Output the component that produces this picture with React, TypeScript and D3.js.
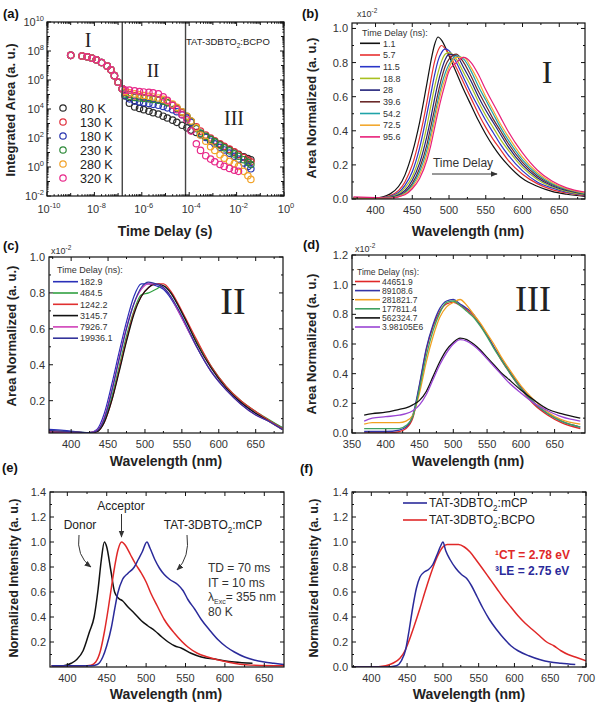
import React from "react";
import * as d3 from "d3";

const SANS = "'Liberation Sans', Arial, Helvetica, sans-serif";
const SERIF = "'Liberation Serif', 'Times New Roman', Times, serif";

// ---------------- (a) integrated area vs time delay ----------------
const A_TIME = [1e-9, 3e-9, 5e-9, 8e-9, 1.2e-8, 2e-8, 3.5e-8, 5e-8, 7e-8, 1e-7, 1.5e-7,
  2e-7, 3e-7, 5e-7, 8e-7, 1.2e-6, 2e-6, 3e-6, 5e-6, 8e-6, 1.2e-5, 2e-5, 3e-5, 5e-5, 8e-5,
  1.2e-4, 2e-4, 3e-4, 5e-4, 8e-4, 1.2e-3, 2e-3, 3e-3, 5e-3, 8e-3, 1.2e-2, 2e-2, 3e-2, 4e-2];
const A_EARLY = [5e7, 4.5e7, 4e7, 3.2e7, 2.5e7, 1.6e7, 9e6, 5e6, 2e6, 7e5, 2.5e5];
const A_80K = [...A_EARLY, 8e4, 2.5e4, 1.4e4, 1.1e4, 9e3, 7e3, 5.5e3, 4.5e3, 3.2e3, 2.4e3, 1.7e3, 1.2e3, 7.5e2, 5e2,
  3.5e2, 2.4e2, 1.7e2, 1.15e2, 80, 55, 36, 25, 16, 10.5, 7.5, 5, 3.8, 3.2];
const A_130K = [...A_EARLY, 1.4e5, 1e5, 8e4, 7e4, 6.2e4, 5.5e4, 5e4, 4.3e4, 3.5e4, 2.7e4, 1.8e4, 1.1e4, 5.5e3, 2.8e3,
  1.4e3, 6e2, 3e2, 1.6e2, 1e2, 65, 40, 27, 17, 11, 7, 4.5, 3, 2.3];
const A_180K = [...A_EARLY, 9e4, 5e4, 3.5e4, 3e4, 2.7e4, 2.4e4, 2.1e4, 1.8e4, 1.5e4, 1.2e4, 9e3, 6.5e3, 4e3, 2.4e3,
  1.2e3, 4.5e2, 2e2, 1.1e2, 60, 40, 23, 15, 9, 5.5, 3.5, 1.9, 1.1, 0.75];
const A_230K = [...A_EARLY, 1.1e5, 7.5e4, 6.2e4, 5.8e4, 5.4e4, 5e4, 4.6e4, 4e4, 3.4e4, 2.7e4, 1.9e4, 1.2e4, 6.5e3, 3.2e3,
  1.4e3, 4.5e2, 2.2e2, 1.3e2, 80, 55, 32, 21, 13, 8, 5.5, 3.2, 2.1, 1.5];
const A_280K = [...A_EARLY, 1.6e5, 1.3e5, 1.1e5, 9.5e4, 8.5e4, 7.5e4, 6.8e4, 5.8e4, 4.6e4, 3.5e4, 2.2e4, 1.3e4, 6.5e3, 3.2e3,
  1.5e3, 5e2, 1.6e2, 60, 25, 14, 7, 4, 2.5, 1.7, 1.1, 0.5, 0.25, 0.14];
const A_320K = [...A_EARLY, 2e5, 2e5, 1.8e5, 1.6e5, 1.5e5, 1.4e5, 1.3e5, 1.1e5, 7e4, 4e4, 1.8e4, 9e3, 4e3, 1.8e3,
  3e2, 40, 14, 6, 3.5, 2.3, 1.5, 1.1, 0.8, 0.6, 0.5, null, null, null];
const A_LABELS = ["80 K", "130 K", "180 K", "230 K", "280 K", "320 K"];
const A_VALUES = [A_80K, A_130K, A_180K, A_230K, A_280K, A_320K];
const A_COLORS = ["#2b2b2b", "#e0303e", "#2a36b0", "#2e8a3a", "#f2a228", "#e8288a"];
const A_BOUNDS = [1.5e-7, 7e-5];

// ---------------- (b) region I spectra ----------------
const B_WL = [370, 400, 420, 440, 450, 460, 470, 475, 480, 485, 490, 495, 500, 510, 520, 530, 540, 550, 560, 570, 580, 600, 620, 640, 660, 685];
const B_1_1 = [0.005, 0.006, 0.03, 0.14, 0.27, 0.45, 0.68, 0.8, 0.9, 0.95, 0.93, 0.89, 0.84, 0.74, 0.64, 0.55, 0.46, 0.38, 0.31, 0.25, 0.2, 0.12, 0.075, 0.045, 0.028, 0.015];
const B_5_7 = [0.005, 0.005, 0.02, 0.1, 0.2, 0.36, 0.57, 0.69, 0.8, 0.87, 0.9, 0.88, 0.85, 0.77, 0.68, 0.59, 0.5, 0.42, 0.35, 0.29, 0.23, 0.145, 0.09, 0.055, 0.035, 0.02];
const B_11_5 = [0.005, 0.005, 0.015, 0.08, 0.16, 0.3, 0.5, 0.61, 0.72, 0.81, 0.86, 0.88, 0.87, 0.8, 0.71, 0.62, 0.54, 0.46, 0.39, 0.32, 0.26, 0.165, 0.1, 0.065, 0.04, 0.022];
const B_18_8 = [0.005, 0.005, 0.012, 0.065, 0.13, 0.25, 0.43, 0.54, 0.65, 0.74, 0.81, 0.85, 0.86, 0.82, 0.74, 0.66, 0.57, 0.49, 0.42, 0.35, 0.29, 0.185, 0.115, 0.072, 0.045, 0.025];
const B_28 = [0.005, 0.005, 0.01, 0.05, 0.11, 0.21, 0.37, 0.47, 0.58, 0.68, 0.76, 0.82, 0.85, 0.84, 0.77, 0.69, 0.6, 0.52, 0.45, 0.38, 0.31, 0.2, 0.125, 0.078, 0.05, 0.028];
const B_39_6 = [0.005, 0.005, 0.008, 0.04, 0.09, 0.18, 0.32, 0.42, 0.52, 0.62, 0.71, 0.78, 0.82, 0.85, 0.8, 0.72, 0.63, 0.55, 0.47, 0.4, 0.33, 0.215, 0.135, 0.085, 0.054, 0.03];
const B_54_2 = [0.005, 0.005, 0.007, 0.035, 0.08, 0.16, 0.29, 0.38, 0.48, 0.58, 0.67, 0.74, 0.79, 0.84, 0.82, 0.75, 0.66, 0.58, 0.5, 0.42, 0.35, 0.23, 0.145, 0.09, 0.057, 0.032];
const B_72_5 = [0.005, 0.005, 0.006, 0.03, 0.07, 0.14, 0.26, 0.35, 0.45, 0.55, 0.64, 0.71, 0.77, 0.83, 0.83, 0.77, 0.69, 0.6, 0.52, 0.44, 0.37, 0.245, 0.155, 0.097, 0.06, 0.035];
const B_95_6 = [0.012, 0.008, 0.006, 0.025, 0.06, 0.12, 0.23, 0.31, 0.41, 0.51, 0.6, 0.68, 0.75, 0.8, 0.83, 0.8, 0.73, 0.64, 0.56, 0.48, 0.4, 0.27, 0.17, 0.105, 0.065, 0.04];
const B_LABELS = ["1.1", "5.7", "11.5", "18.8", "28", "39.6", "54.2", "72.5", "95.6"];
const B_VALUES = [B_1_1, B_5_7, B_11_5, B_18_8, B_28, B_39_6, B_54_2, B_72_5, B_95_6];
const B_COLORS = ["#111111", "#e83030", "#2a36c8", "#a8c020", "#22227a", "#6b2a2a", "#1fa3a8", "#f2a830", "#e8207a"];

// ---------------- (c) region II spectra ----------------
const C_WL = [370, 390, 410, 425, 435, 445, 455, 465, 475, 485, 495, 505, 515, 525, 535, 545, 555, 570, 590, 610, 630, 650, 670, 686];
const C_182_9 = [0.04, 0.035, 0.025, 0.022, 0.04, 0.13, 0.29, 0.47, 0.64, 0.78, 0.85, 0.85, 0.84, 0.82, 0.77, 0.7, 0.62, 0.5, 0.36, 0.26, 0.19, 0.13, 0.085, 0.05];
const C_484_5 = [0.03, 0.028, 0.024, 0.022, 0.03, 0.09, 0.22, 0.39, 0.56, 0.7, 0.79, 0.8, 0.82, 0.84, 0.8, 0.73, 0.65, 0.53, 0.39, 0.28, 0.2, 0.14, 0.09, 0.05];
const C_1242_2 = [0.025, 0.024, 0.023, 0.022, 0.028, 0.08, 0.2, 0.37, 0.54, 0.69, 0.78, 0.83, 0.85, 0.85, 0.81, 0.74, 0.66, 0.54, 0.39, 0.28, 0.2, 0.14, 0.085, 0.045];
const C_3145_7 = [0.025, 0.024, 0.023, 0.022, 0.027, 0.08, 0.2, 0.36, 0.53, 0.68, 0.78, 0.83, 0.85, 0.84, 0.8, 0.73, 0.65, 0.52, 0.38, 0.27, 0.19, 0.13, 0.08, 0.04];
const C_7926_7 = [0.025, 0.024, 0.023, 0.022, 0.035, 0.11, 0.26, 0.44, 0.61, 0.74, 0.82, 0.85, 0.85, 0.83, 0.78, 0.7, 0.62, 0.5, 0.36, 0.26, 0.18, 0.12, 0.08, 0.04];
const C_19936_1 = [0.035, 0.03, 0.025, 0.022, 0.033, 0.1, 0.25, 0.43, 0.6, 0.74, 0.83, 0.86, 0.85, 0.83, 0.78, 0.71, 0.63, 0.5, 0.36, 0.26, 0.18, 0.12, 0.08, 0.04];
const C_LABELS = ["182.9", "484.5", "1242.2", "3145.7", "7926.7", "19936.1"];
const C_VALUES = [C_182_9, C_484_5, C_1242_2, C_3145_7, C_7926_7, C_19936_1];
const C_COLORS = ["#2a30b8", "#30a040", "#e03030", "#111111", "#d040b8", "#33339a"];

// ---------------- (d) region III spectra ----------------
const D_WL = [368, 380, 400, 420, 430, 440, 450, 460, 470, 480, 490, 500, 510, 520, 530, 540, 550, 560, 570, 580, 600, 620, 640, 660, 688];
const D_44651_9 = [0.0, 0.0, 0.0, 0.01, 0.03, 0.1, 0.32, 0.56, 0.72, 0.82, 0.87, 0.88, 0.86, 0.83, 0.79, 0.73, 0.66, 0.58, 0.5, 0.43, 0.3, 0.19, 0.12, 0.07, 0.03];
const D_89108_6 = [0.01, 0.01, 0.01, 0.02, 0.04, 0.12, 0.33, 0.57, 0.73, 0.84, 0.89, 0.9, 0.87, 0.84, 0.8, 0.73, 0.66, 0.58, 0.51, 0.44, 0.31, 0.2, 0.13, 0.08, 0.04];
const D_281821_7 = [0.06, 0.07, 0.07, 0.07, 0.08, 0.12, 0.27, 0.48, 0.65, 0.78, 0.85, 0.88, 0.9, 0.86, 0.8, 0.74, 0.67, 0.6, 0.52, 0.45, 0.32, 0.22, 0.14, 0.09, 0.06];
const D_177811_4 = [0.03, 0.03, 0.03, 0.03, 0.05, 0.11, 0.3, 0.52, 0.69, 0.81, 0.88, 0.89, 0.86, 0.82, 0.78, 0.72, 0.65, 0.57, 0.5, 0.43, 0.3, 0.2, 0.13, 0.08, 0.04];
const D_562324_7 = [0.12, 0.13, 0.14, 0.16, 0.17, 0.19, 0.22, 0.28, 0.38, 0.48, 0.56, 0.61, 0.64, 0.63, 0.6, 0.56, 0.51, 0.46, 0.41, 0.37, 0.29, 0.22, 0.16, 0.13, 0.1];
const D_3_98105E6 = [0.08, 0.1, 0.11, 0.12, 0.13, 0.15, 0.19, 0.26, 0.36, 0.46, 0.54, 0.6, 0.63, 0.62, 0.59, 0.55, 0.5, 0.45, 0.4, 0.35, 0.27, 0.2, 0.15, 0.11, 0.08];
const D_LABELS = ["44651.9", "89108.6", "281821.7", "177811.4", "562324.7", "3.98105E6"];
const D_VALUES = [D_44651_9, D_89108_6, D_281821_7, D_177811_4, D_562324_7, D_3_98105E6];
const D_COLORS = ["#e02828", "#3434a8", "#f2a020", "#40a060", "#111111", "#9a44d4"];

// ---------------- (e) donor / acceptor / blend ----------------
const E_DON_WL = [380, 395, 405, 412, 420, 428, 434, 439, 443, 447, 450, 455, 460, 465, 470, 477, 485, 494, 502, 511, 520, 528, 536, 545, 557, 570, 590, 612, 635];
const E_DON = [0.01, 0.01, 0.03, 0.06, 0.13, 0.28, 0.4, 0.62, 0.85, 1.0, 0.96, 0.78, 0.6, 0.55, 0.53, 0.48, 0.43, 0.37, 0.33, 0.29, 0.24, 0.2, 0.17, 0.15, 0.11, 0.08, 0.06, 0.04, 0.03];
const E_ACC_WL = [380, 420, 430, 436, 442, 447, 452, 456, 460, 464, 469, 474, 480, 486, 494, 500, 506, 514, 523, 536, 553, 565, 578, 603, 633, 675];
const E_ACC = [0.01, 0.01, 0.015, 0.04, 0.13, 0.28, 0.47, 0.64, 0.8, 0.93, 1.0, 0.97, 0.9, 0.83, 0.75, 0.68, 0.59, 0.49, 0.38, 0.27, 0.16, 0.11, 0.08, 0.04, 0.015, 0.01];
const E_MCP_WL = [380, 430, 438, 445, 450, 456, 460, 464, 470, 477, 485, 490, 495, 501, 505, 511, 517, 523, 530, 540, 547, 553, 562, 570, 580, 591, 602, 612, 625, 637, 650, 662, 675];
const E_MCP = [0.01, 0.01, 0.02, 0.08, 0.17, 0.32, 0.46, 0.59, 0.7, 0.75, 0.8, 0.86, 0.92, 1.0, 0.95, 0.86, 0.79, 0.74, 0.7, 0.66, 0.61, 0.54, 0.46, 0.38, 0.3, 0.22, 0.16, 0.12, 0.08, 0.056, 0.04, 0.03, 0.02];

// ---------------- (f) mCP vs BCPO ----------------
const F_MCP_WL = [373, 420, 435, 442, 448, 453, 458, 463, 468, 474, 480, 486, 492, 497, 500, 504, 510, 518, 526, 533, 540, 548, 556, 565, 575, 585, 595, 605, 620, 635, 650, 665, 685];
const F_MCP = [0.0, 0.0, 0.01, 0.05, 0.14, 0.3, 0.48, 0.63, 0.72, 0.76, 0.78, 0.82, 0.9, 0.97, 1.0, 0.93, 0.86, 0.79, 0.74, 0.71, 0.65, 0.56, 0.47, 0.38, 0.3, 0.23, 0.17, 0.13, 0.09, 0.06, 0.04, 0.03, 0.02];
const F_BCPO_WL = [373, 400, 420, 430, 440, 447, 452, 460, 468, 476, 484, 492, 500, 506, 514, 522, 530, 538, 546, 555, 565, 575, 585, 595, 605, 615, 625, 635, 645, 655, 665, 675, 685, 700];
const F_BCPO = [0.0, 0.0, 0.01, 0.03, 0.07, 0.13, 0.2, 0.33, 0.47, 0.62, 0.76, 0.88, 0.96, 0.98, 0.98, 0.98, 0.96, 0.92, 0.86, 0.79, 0.71, 0.63, 0.55, 0.48, 0.41, 0.35, 0.3, 0.25, 0.2, 0.17, 0.13, 0.1, 0.08, 0.05];

const BLUE = "#2a2a9a";
const RED = "#e02828";

type Lin = d3.ScaleLinear<number, number>;

function rng(a: number, b: number, s: number) {
  return d3.range(a, b + s / 2, s).map((v) => +v.toFixed(3));
}

function LinAxes(props: {
  id: string; x: Lin; y: Lin; xMajor: number[]; xMinor: number[]; yMajor: number[]; yMinor: number[];
  xLabels: number[]; yLabels: number[]; yFmt?: (v: number) => string;
}) {
  const { x, y } = props;
  const [x0, x1] = x.range();
  const [yb, yt] = y.range();
  const M = 4, m = 2;
  const ticks: any[] = [];
  props.xMajor.forEach((v, i) => {
    const p = x(v);
    ticks.push(<line key={`xM${i}`} x1={p} x2={p} y1={yb} y2={yb - M} />);
    ticks.push(<line key={`xMt${i}`} x1={p} x2={p} y1={yt} y2={yt + M} />);
  });
  props.xMinor.forEach((v, i) => {
    const p = x(v);
    ticks.push(<line key={`xm${i}`} x1={p} x2={p} y1={yb} y2={yb - m} />);
    ticks.push(<line key={`xmt${i}`} x1={p} x2={p} y1={yt} y2={yt + m} />);
  });
  props.yMajor.forEach((v, i) => {
    const p = y(v);
    ticks.push(<line key={`yM${i}`} x1={x0} x2={x0 + M} y1={p} y2={p} />);
    ticks.push(<line key={`yMr${i}`} x1={x1} x2={x1 - M} y1={p} y2={p} />);
  });
  props.yMinor.forEach((v, i) => {
    const p = y(v);
    ticks.push(<line key={`ym${i}`} x1={x0} x2={x0 + m} y1={p} y2={p} />);
    ticks.push(<line key={`ymr${i}`} x1={x1} x2={x1 - m} y1={p} y2={p} />);
  });
  const fmt = props.yFmt || ((v: number) => v.toFixed(1));
  return (
    <g>
      <g stroke="#111" strokeWidth={1}>{ticks}</g>
      <rect x={x0} y={yt} width={x1 - x0} height={yb - yt} fill="none" stroke="#111" strokeWidth={1.2} />
      <g fontSize={11} fontFamily={SANS} fill="#333">
        {props.xLabels.map((v, i) => (
          <text key={`xl${i}`} x={x(v)} y={yb + 14.5} textAnchor="middle">{v}</text>
        ))}
        {props.yLabels.map((v, i) => (
          <text key={`yl${i}`} x={x0 - 4} y={y(v) + 4} textAnchor="end">{fmt(v)}</text>
        ))}
      </g>
    </g>
  );
}

function TAT({ x, y, size, suffix, fill, anchor, weight }: any) {
  return (
    <text x={x} y={y} fontSize={size} fill={fill || "#222"} textAnchor={anchor || "start"} fontWeight={weight || "normal"} fontFamily={SANS}>
      TAT-3DBTO<tspan dy={size * 0.3} fontSize={size * 0.68}>2</tspan><tspan dy={-size * 0.3}>{suffix}</tspan>
    </text>
  );
}

function YTitle({ x, y, text, size }: any) {
  return (
    <text transform={`translate(${x},${y}) rotate(-90)`} textAnchor="middle" fontSize={size || 13} fontWeight="bold" fontFamily={SANS} fill="#222">{text}</text>
  );
}
function XTitle({ x, y, text }: any) {
  return <text x={x} y={y} textAnchor="middle" fontSize={14} fontWeight="bold" fontFamily={SANS} fill="#222">{text}</text>;
}
function Sci({ x, y }: any) {
  return (
    <text x={x} y={y} fontSize={9} fontFamily={SANS} fill="#333">x10<tspan dy={-4} fontSize={6.5}>-2</tspan></text>
  );
}

function pairs(xs: number[], ys: (number | null)[]) {
  return xs.map((v, i) => [v, ys[i]] as [number, number | null]).filter((d) => d[1] !== null) as [number, number][];
}

export default function App() {
  // scales
  const ax = d3.scaleLog().domain([1e-10, 1]).range([47, 284]);
  const ay = d3.scaleLog().domain([1e-2, 1e10]).range([196, 22]);
  const bx = d3.scaleLinear().domain([368, 685]).range([352, 585]);
  const by = d3.scaleLinear().domain([0, 1.032]).range([199, 23]);
  const cx = d3.scaleLinear().domain([370, 687]).range([49, 283]);
  const cy = d3.scaleLinear().domain([0.02, 1.0]).range([433, 257]);
  const dx = d3.scaleLinear().domain([350, 695]).range([352, 585]);
  const dy = d3.scaleLinear().domain([0, 1.2]).range([433, 255]);
  const ex = d3.scaleLinear().domain([378, 675]).range([50, 284]);
  const ey = d3.scaleLinear().domain([0, 1.4]).range([667, 492]);
  const fx = d3.scaleLinear().domain([373, 700]).range([352, 586]);
  const fy = d3.scaleLinear().domain([0, 1.4]).range([667, 492]);

  const mkLine = (x: Lin, y: Lin) =>
    d3.line<[number, number]>().x((d) => x(d[0])).y((d) => y(d[1])).curve(d3.curveMonotoneX);

  // log axis ticks for (a)
  const axMajor = d3.range(-10, 1);
  const ayMajor = d3.range(-2, 11);
  const axMinor: number[] = [];
  axMajor.slice(0, -1).forEach((e) => d3.range(2, 10).forEach((k) => axMinor.push(k * Math.pow(10, e))));
  const ayMinor: number[] = [];
  ayMajor.slice(0, -1).forEach((e) => d3.range(2, 10).forEach((k) => ayMinor.push(k * Math.pow(10, e))));
  const [ax0, ax1] = ax.range();
  const [ayb, ayt] = ay.range();

  const wlMinor = (lo: number, hi: number) => rng(325, 725, 25).filter((v) => v % 50 !== 0 && v > lo && v < hi);

  const bLine = mkLine(bx, by);
  const cLine = mkLine(cx, cy);
  const dLine = mkLine(dx, dy);
  const eLine = mkLine(ex, ey);
  const fLine = mkLine(fx, fy);

  return (
    <div style={{ position: "absolute", left: 0, top: 0 }}>
      <svg width={600} height={707} viewBox="0 0 600 707" style={{ display: "block", background: "#fff" }} fontFamily={SANS}>
        <defs>
          <marker id="arrowH" viewBox="0 0 10 10" refX="9" refY="5" markerWidth="7" markerHeight="7" orient="auto" markerUnits="userSpaceOnUse">
            <path d="M0,1 L10,5 L0,9 z" fill="#333" />
          </marker>
          <clipPath id="clipA"><rect x={47} y={22} width={237} height={174} /></clipPath>
          <clipPath id="clipB"><rect x={352} y={23} width={233} height={176} /></clipPath>
          <clipPath id="clipC"><rect x={49} y={257} width={234} height={176} /></clipPath>
          <clipPath id="clipD"><rect x={352} y={255} width={233} height={178} /></clipPath>
          <clipPath id="clipE"><rect x={50} y={492} width={234} height={175} /></clipPath>
          <clipPath id="clipF"><rect x={352} y={492} width={234} height={175} /></clipPath>
        </defs>

        {/* panel labels */}
        <g fontSize={13} fontWeight="bold" fill="#111">
          <text x={3} y={18}>(a)</text>
          <text x={302} y={18}>(b)</text>
          <text x={3} y={250}>(c)</text>
          <text x={303} y={249}>(d)</text>
          <text x={2} y={472}>(e)</text>
          <text x={300} y={473}>(f)</text>
        </g>

        {/* ================= (a) ================= */}
        <g>
          <g clipPath="url(#clipA)">
            {A_VALUES.map((vals, si) => (
              <g key={si} fill="none" stroke={A_COLORS[si]} strokeWidth={1.2}>
                {pairs(A_TIME, vals).map((d, i) => (
                  <circle key={i} cx={ax(d[0])} cy={ay(d[1])} r={3.2} />
                ))}
              </g>
            ))}
          </g>
          {A_BOUNDS.map((t, i) => (
            <line key={i} x1={ax(t)} x2={ax(t)} y1={ayt} y2={ayb} stroke="#444" strokeWidth={1.4} />
          ))}
          <g stroke="#111" strokeWidth={1}>
            {axMajor.map((e) => {
              const p = ax(Math.pow(10, e));
              const L = e % 2 === 0 ? 4 : 3;
              return (
                <g key={`ax${e}`}>
                  <line x1={p} x2={p} y1={ayb} y2={ayb - L} />
                  <line x1={p} x2={p} y1={ayt} y2={ayt + L} />
                </g>
              );
            })}
            {axMinor.map((v, i) => {
              const p = ax(v);
              return (
                <g key={`axm${i}`}>
                  <line x1={p} x2={p} y1={ayb} y2={ayb - 1.8} />
                  <line x1={p} x2={p} y1={ayt} y2={ayt + 1.8} />
                </g>
              );
            })}
            {ayMajor.map((e) => {
              const p = ay(Math.pow(10, e));
              const L = e % 2 === 0 ? 4 : 3;
              return (
                <g key={`ay${e}`}>
                  <line x1={ax0} x2={ax0 + L} y1={p} y2={p} />
                  <line x1={ax1} x2={ax1 - L} y1={p} y2={p} />
                </g>
              );
            })}
            {ayMinor.map((v, i) => {
              const p = ay(v);
              return (
                <g key={`aym${i}`}>
                  <line x1={ax0} x2={ax0 + 1.6} y1={p} y2={p} />
                  <line x1={ax1} x2={ax1 - 1.6} y1={p} y2={p} />
                </g>
              );
            })}
          </g>
          <rect x={ax0} y={ayt} width={ax1 - ax0} height={ayb - ayt} fill="none" stroke="#111" strokeWidth={1.2} />
          <g fontSize={11} fill="#333">
            {axMajor.filter((e) => e % 2 === 0).map((e) => (
              <text key={`axl${e}`} x={ax(Math.pow(10, e)) + 2} y={ayb + 17} textAnchor="middle">
                10<tspan dy={-5} fontSize={7.5}>{e}</tspan>
              </text>
            ))}
            {ayMajor.filter((e) => e % 2 === 0).map((e) => (
              <text key={`ayl${e}`} x={ax0 - 3} y={ay(Math.pow(10, e)) + 4} textAnchor="end">
                10<tspan dy={-5} fontSize={7.5}>{e}</tspan>
              </text>
            ))}
          </g>
          <g fontFamily={SERIF} fill="#222" textAnchor="middle">
            <text x={88} y={47} fontSize={20}>I</text>
            <text x={153} y={77} fontSize={19}>II</text>
            <text x={234} y={125} fontSize={20}>III</text>
          </g>
          <TAT x={186} y={45} size={9.5} suffix=":BCPO" />
          {A_LABELS.map((lab, i) => {
            const yy = 108 + i * 14;
            return (
              <g key={lab}>
                <circle cx={63} cy={yy} r={3.2} fill="none" stroke={A_COLORS[i]} strokeWidth={1.2} />
                <text x={80} y={yy + 4.5} fontSize={12.5} fill="#222">{lab}</text>
              </g>
            );
          })}
          <XTitle x={165} y={236} text="Time Delay (s)" />
          <YTitle x={15} y={110} text="Integrated Area (a. u.)" />
        </g>

        {/* ================= (b) ================= */}
        <g>
          <g clipPath="url(#clipB)" fill="none" strokeWidth={1.2}>
            {B_VALUES.map((vals, i) => (
              <path key={i} d={bLine(pairs(B_WL, vals)) || ""} stroke={B_COLORS[i]} />
            ))}
          </g>
          <LinAxes id="b" x={bx} y={by} xMajor={rng(400, 650, 50)} xMinor={wlMinor(368, 685)}
            yMajor={rng(0, 1.0, 0.2)} yMinor={rng(0.1, 0.9, 0.2)} xLabels={rng(400, 650, 50)} yLabels={rng(0, 1.0, 0.2)} />
          <Sci x={357} y={17} />
          <text x={362} y={36} fontSize={9} fill="#333">Time Delay (ns):</text>
          {B_LABELS.map((lab, i) => {
            const yy = 43.3 + i * 11.7;
            return (
              <g key={lab}>
                <line x1={360} x2={380} y1={yy} y2={yy} stroke={B_COLORS[i]} strokeWidth={1.6} />
                <text x={383} y={yy + 3.2} fontSize={9} fill="#333">{lab}</text>
              </g>
            );
          })}
          <text x={547} y={83} fontSize={32} fontFamily={SERIF} textAnchor="middle" fill="#222">I</text>
          <text x={463} y={167} fontSize={12} textAnchor="middle" fill="#333">Time Delay</text>
          <line x1={432} x2={497} y1={174} y2={174} stroke="#333" strokeWidth={1} markerEnd="url(#arrowH)" />
          <XTitle x={468} y={236} text="Wavelength (nm)" />
          <YTitle x={316} y={108} text="Area Normalized (a. u.)" />
        </g>

        {/* ================= (c) ================= */}
        <g>
          <g clipPath="url(#clipC)" fill="none" strokeWidth={1.2}>
            {C_VALUES.map((vals, i) => (
              <path key={i} d={cLine(pairs(C_WL, vals)) || ""} stroke={C_COLORS[i]} />
            ))}
          </g>
          <LinAxes id="c" x={cx} y={cy} xMajor={rng(400, 650, 50)} xMinor={wlMinor(370, 687)}
            yMajor={rng(0.2, 1.0, 0.2)} yMinor={rng(0.1, 0.9, 0.2)} xLabels={rng(400, 650, 50)} yLabels={rng(0.2, 1.0, 0.2)} />
          <Sci x={51} y={254} />
          <text x={57} y={273} fontSize={9} fill="#333">Time Delay (ns):</text>
          {C_LABELS.map((lab, i) => {
            const yy = 281.7 + i * 11.3;
            return (
              <g key={lab}>
                <line x1={53} x2={78} y1={yy} y2={yy} stroke={C_COLORS[i]} strokeWidth={1.6} />
                <text x={80} y={yy + 3.2} fontSize={9} fill="#333">{lab}</text>
              </g>
            );
          })}
          <text x={233} y={314} fontSize={38} fontFamily={SERIF} textAnchor="middle" fill="#222">II</text>
          <XTitle x={166} y={466} text="Wavelength (nm)" />
          <YTitle x={16} y={336} text="Area Normalized (a. u.)" />
        </g>

        {/* ================= (d) ================= */}
        <g>
          <g clipPath="url(#clipD)" fill="none" strokeWidth={1.3}>
            {D_VALUES.map((vals, i) => (
              <path key={i} d={dLine(pairs(D_WL, vals)) || ""} stroke={D_COLORS[i]} />
            ))}
          </g>
          <LinAxes id="d" x={dx} y={dy} xMajor={rng(350, 650, 50)} xMinor={wlMinor(350, 695)}
            yMajor={rng(0, 1.2, 0.2)} yMinor={rng(0.1, 1.1, 0.2)} xLabels={rng(350, 650, 50)} yLabels={rng(0, 1.2, 0.2)} />
          <Sci x={355} y={252} />
          <text x={357} y={274.5} fontSize={8.5} fill="#333">Time Delay (ns):</text>
          {D_LABELS.map((lab, i) => {
            const yy = 281.5 + i * 9.1;
            return (
              <g key={lab}>
                <line x1={355} x2={380} y1={yy} y2={yy} stroke={D_COLORS[i]} strokeWidth={1.6} />
                <text x={382} y={yy + 3} fontSize={8.5} fill="#333">{lab}</text>
              </g>
            );
          })}
          <text x={533} y={311} fontSize={36} fontFamily={SERIF} textAnchor="middle" fill="#222">III</text>
          <XTitle x={468} y={466} text="Wavelength (nm)" />
          <YTitle x={316} y={344} text="Area Normalized (a. u.)" />
        </g>

        {/* ================= (e) ================= */}
        <g>
          <g clipPath="url(#clipE)" fill="none" strokeWidth={1.5}>
            <path d={eLine(pairs(E_DON_WL, E_DON)) || ""} stroke="#111" />
            <path d={eLine(pairs(E_ACC_WL, E_ACC)) || ""} stroke={RED} />
            <path d={eLine(pairs(E_MCP_WL, E_MCP)) || ""} stroke={BLUE} />
          </g>
          <LinAxes id="e" x={ex} y={ey} xMajor={rng(400, 650, 50)} xMinor={wlMinor(378, 675)}
            yMajor={rng(0.2, 1.4, 0.2)} yMinor={rng(0.1, 1.3, 0.2)} xLabels={rng(400, 650, 50)} yLabels={rng(0.2, 1.4, 0.2)} />
          <g fontSize={12} fill="#222">
            <text x={80} y={529} textAnchor="middle">Donor</text>
            <text x={121} y={510} textAnchor="middle">Acceptor</text>
          </g>
          <TAT x={213} y={529} size={12} suffix=":mCP" anchor="middle" />
          <g fill="none" stroke="#333" strokeWidth={1}>
            <path d="M79,535 Q76,556 91,567" markerEnd="url(#arrowH)" />
            <line x1={121.5} x2={121.5} y1={514} y2={537} markerEnd="url(#arrowH)" />
            <path d="M187,535 Q190,557 177,570" markerEnd="url(#arrowH)" />
          </g>
          <g fontSize={12} fill="#333">
            <text x={208} y={572}>TD = 70 ms</text>
            <text x={208} y={587}>IT = 10 ms</text>
            <text x={208} y={601}>λ<tspan dy={3} fontSize={7}>Exc</tspan><tspan dy={-3}>= 355 nm</tspan></text>
            <text x={208} y={616}>80 K</text>
          </g>
          <XTitle x={166} y={699} text="Wavelength (nm)" />
          <YTitle x={18} y={578} text="Normalized Intensity (a. u.)" size={12.5} />
        </g>

        {/* ================= (f) ================= */}
        <g>
          <g clipPath="url(#clipF)" fill="none" strokeWidth={1.5}>
            <path d={fLine(pairs(F_BCPO_WL, F_BCPO)) || ""} stroke={RED} />
            <path d={fLine(pairs(F_MCP_WL, F_MCP)) || ""} stroke={BLUE} />
          </g>
          <LinAxes id="f" x={fx} y={fy} xMajor={rng(400, 700, 50)} xMinor={wlMinor(373, 700)}
            yMajor={rng(0, 1.4, 0.2)} yMinor={rng(0.1, 1.3, 0.2)} xLabels={rng(400, 700, 50)} yLabels={rng(0, 1.4, 0.2)} />
          <line x1={403} x2={427} y1={503} y2={503} stroke={BLUE} strokeWidth={1.6} />
          <line x1={403} x2={427} y1={520} y2={520} stroke={RED} strokeWidth={1.6} />
          <TAT x={429} y={507} size={12} suffix=":mCP" />
          <TAT x={429} y={524} size={12} suffix=":BCPO" />
          <g fontSize={12} fontWeight="bold">
            <text x={495} y={559} fill={RED}>¹CT = 2.78 eV</text>
            <text x={495} y={575} fill={BLUE}>³LE = 2.75 eV</text>
          </g>
          <XTitle x={469} y={699} text="Wavelength (nm)" />
          <YTitle x={318} y={578} text="Normalized Intensity (a. u.)" size={12.5} />
        </g>
      </svg>
    </div>
  );
}
